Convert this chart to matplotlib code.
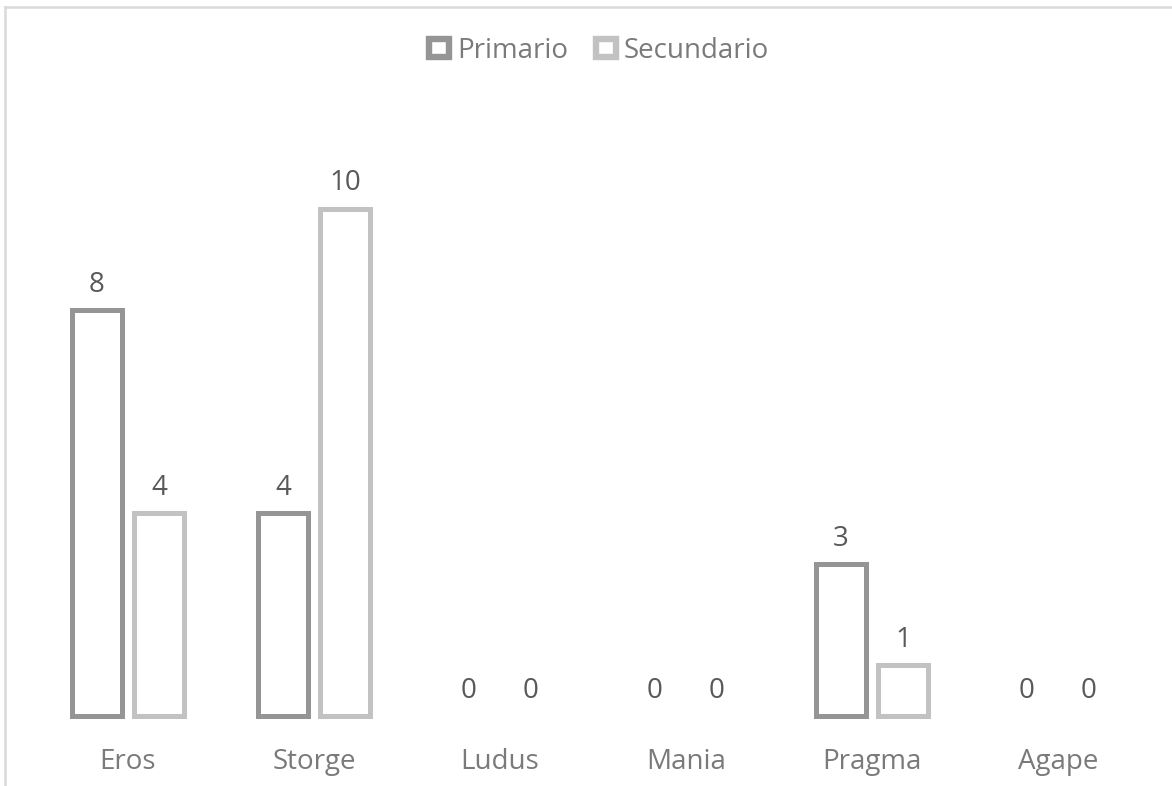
import matplotlib
matplotlib.use("Agg")
import matplotlib.pyplot as plt
import numpy as np
from matplotlib.patches import Rectangle
from matplotlib.lines import Line2D

categories = ["Eros", "Storge", "Ludus", "Mania", "Pragma", "Agape"]
primario = [8, 4, 0, 0, 3, 0]
secundario = [4, 10, 0, 0, 1, 0]
series_names = ["Primario", "Secundario"]

col_prim = "#959595"
col_sec = "#c2c2c2"
label_col = "#595959"
axis_text_col = "#7a7a7a"

plt.rcParams["font.family"] = ["Open Sans", "DejaVu Sans"]

W, H = 1172, 786
fig = plt.figure(figsize=(W / 100, H / 100), dpi=100)
fig.patch.set_facecolor("white")

# plot area in pixels
left_px, right_px = 35, 1151
base_px, top_px = 716, 107
ax = fig.add_axes([left_px / W, (H - base_px) / H,
                   (right_px - left_px) / W, (base_px - top_px) / H])
ax.set_xlim(-0.5, len(categories) - 0.5)
ax.set_ylim(0, 12)

x = np.arange(len(categories))
width = 0.269
offset = 0.167
lw = 3.6
fs = 20

for vals, dx, col in [(primario, -offset, col_prim), (secundario, offset, col_sec)]:
    edges = [col if v > 0 else "none" for v in vals]
    ax.bar(x + dx, vals, width, facecolor="white", edgecolor=edges,
           linewidth=lw, clip_on=False)
    for xi, v in zip(x + dx, vals):
        ax.annotate(str(v), (xi, v), xytext=(0, 8), textcoords="offset points",
                    ha="center", va="bottom", fontsize=fs, color=label_col)

for s in ax.spines.values():
    s.set_visible(False)
ax.set_yticks([])
ax.set_xticks(x)
ax.set_xticklabels(categories, fontsize=fs, color=axis_text_col)
ax.tick_params(axis="x", length=0, pad=23)
ax.patch.set_alpha(0)

# legend
handles = [Rectangle((0, 0), 1, 1, facecolor="white", edgecolor=col_prim, linewidth=4.6),
           Rectangle((0, 0), 1, 1, facecolor="white", edgecolor=col_sec, linewidth=4.6)]
leg = fig.legend(handles, series_names, loc="center", bbox_to_anchor=(599 / W, 1 - 51 / H),
                 ncol=2, frameon=False, fontsize=fs, handlelength=0.72, handleheight=0.62,
                 handletextpad=0.3, columnspacing=1.0, labelcolor=axis_text_col)

# chart border (top and left)
fig.add_artist(Line2D([5 / W, 1], [1 - 7 / H, 1 - 7 / H], color="#d9d9d9", linewidth=1.8))
fig.add_artist(Line2D([5 / W, 5 / W], [0, 1 - 7 / H], color="#d9d9d9", linewidth=1.8))

fig.savefig("out.png", dpi=100, facecolor="white")
